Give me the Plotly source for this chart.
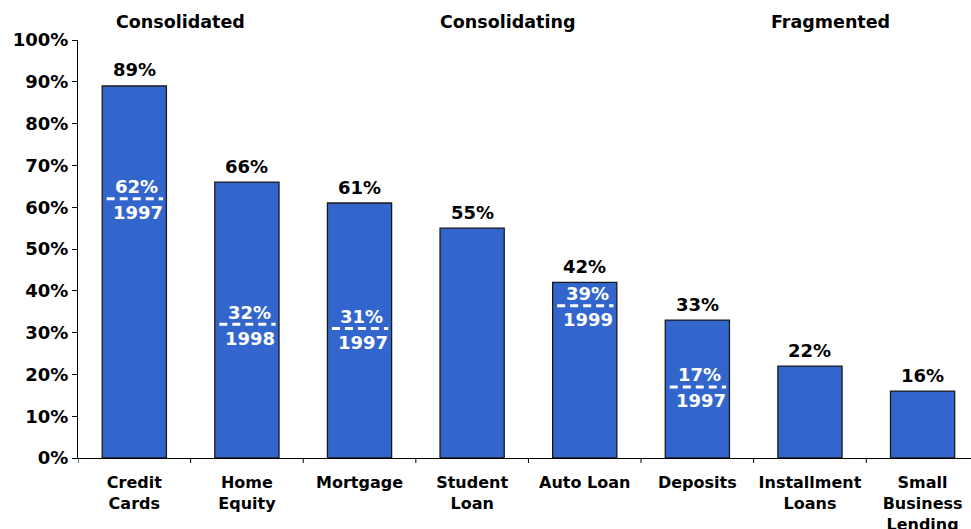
import plotly.graph_objects as go

# Market share of the top players by product
categories = ["Credit<br>Cards", "Home<br>Equity", "Mortgage", "Student<br>Loan",
              "Auto Loan", "Deposits", "Installment<br>Loans", "Small<br>Business<br>Lending"]
shares = [89, 66, 61, 55, 42, 33, 22, 16]

# Earlier share readings (product index, share, year)
earlier_idx = [0, 1, 2, 4, 5]
earlier_share = [62, 32, 31, 39, 17]
earlier_year = ["1997", "1998", "1997", "1999", "1997"]

# Segment headings
segments = ["Consolidated", "Consolidating", "Fragmented"]
segment_x = [0.41, 3.31, 6.18]

FONT = "Verdana, DejaVu Sans, sans-serif"
BLUE = "#3366CC"

x = list(range(len(categories)))

fig = go.Figure()
fig.add_trace(go.Bar(
    x=x, y=shares, width=0.57,
    marker=dict(color=BLUE, line=dict(color="#1a1a1a", width=1.3)),
    hoverinfo="skip",
))

annotations = []
shapes = []

# value labels above the bars
for xi, v in zip(x, shares):
    annotations.append(dict(
        x=xi, y=v, xref="x", yref="y", text=f"<b>{v}%</b>", showarrow=False,
        yanchor="middle", yshift=16, font=dict(family=FONT, size=18, color="black")))

# earlier share with year, written as a fraction inside the bar
for i, s, yr in zip(earlier_idx, earlier_share, earlier_year):
    level = min(s, shares[i] - 5.6)
    shapes.append(dict(
        type="line", xref="x", yref="y", x0=i - 0.245, x1=i + 0.255, y0=level, y1=level,
        line=dict(color="white", width=3, dash="8px,5px")))
    annotations.append(dict(
        x=i + 0.02, y=level, xref="x", yref="y", text=f"<b>{s}%</b>", showarrow=False,
        yanchor="middle", yshift=12, font=dict(family=FONT, size=18, color="white")))
    annotations.append(dict(
        x=i + 0.03, y=level, xref="x", yref="y", text=f"<b>{yr}</b>", showarrow=False,
        yanchor="middle", yshift=-14, font=dict(family=FONT, size=18, color="white")))

# segment headings
for name, sx in zip(segments, segment_x):
    annotations.append(dict(
        x=sx, y=1, xref="x", yref="paper", text=f"<b>{name}</b>", showarrow=False,
        yanchor="middle", yshift=18, font=dict(family=FONT, size=17.5, color="black")))

# tick marks on the category boundaries along the x axis
for b in range(len(categories)):
    shapes.append(dict(
        type="line", xref="x", yref="paper", x0=b - 0.5, x1=b - 0.5, y0=0, y1=-0.012,
        line=dict(color="black", width=1)))

fig.update_layout(
    width=971, height=529,
    margin=dict(l=78, r=0, t=40, b=71, autoexpand=False),
    plot_bgcolor="white", paper_bgcolor="white",
    showlegend=False,
    annotations=annotations,
    shapes=shapes,
    font=dict(family=FONT, size=16, color="black"),
    xaxis=dict(
        type="linear", range=[-0.5, 7.43], automargin=False,
        tickmode="array", tickvals=x, ticktext=[f"<b>{c}</b>" for c in categories],
        showline=True, linecolor="black", linewidth=1,
        ticks="", showgrid=False, zeroline=False,
        ticklabelstandoff=10,
        tickfont=dict(family=FONT, size=16, color="black"),
    ),
    yaxis=dict(
        range=[0, 100], automargin=False, tickmode="array", tickvals=list(range(0, 101, 10)),
        ticktext=[f"<b>{v}%</b>" for v in range(0, 101, 10)],
        showline=True, linecolor="black", linewidth=1,
        ticks="outside", ticklen=5, tickcolor="black",
        showgrid=False, zeroline=False,
        tickfont=dict(family=FONT, size=18, color="black"),
    ),
)

fig.write_html("out.html")
